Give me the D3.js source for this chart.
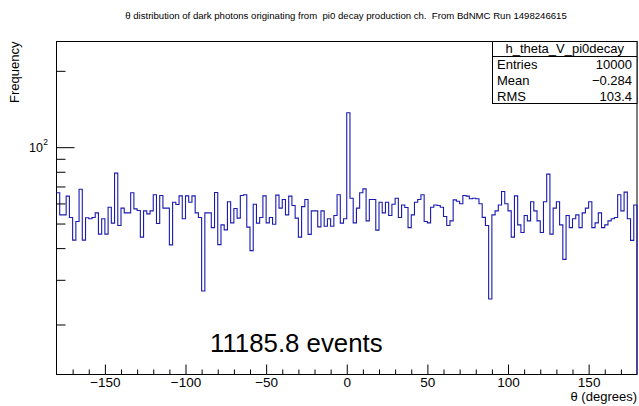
<!DOCTYPE html>
<html><head><meta charset="utf-8">
<script src="https://cdn.jsdelivr.net/npm/d3@7"></script>
<style>
html,body{margin:0;padding:0;background:#fff;}
svg{display:block;font-family:"Liberation Sans",Arial,Helvetica,sans-serif;}
</style></head>
<body>
<svg id="c" width="639" height="406"></svg>
<script>
// ---- data ----
const binEdgesStart = -180, binWidth = 2;
const counts = [
66.1,54.1,54.1,64.1,52.8,43.0,50.9,68.3,43.0,52.7,
52.2,52.8,55.1,45.4,52.2,45.4,58.0,50.2,79.0,49.1,
57.5,55.1,55.1,66.1,57.1,56.3,44.2,56.1,54.6,56.1,
64.9,50.0,64.5,57.5,57.5,41.2,60.7,59.4,64.3,52.2,
64.3,60.7,64.3,55.1,52.8,27.1,55.1,55.1,48.2,66.3,
41.3,49.4,47.2,60.9,50.3,57.3,52.5,64.5,64.9,48.4,
39.1,59.6,50.2,52.8,64.3,50.3,52.8,49.7,64.7,57.5,
62.2,54.1,64.1,58.9,52.5,44.2,58.3,62.2,45.3,56.1,
56.1,48.5,56.1,48.8,52.2,48.8,53.8,64.9,50.2,52.2,
136.6,62.9,50.3,57.5,66.1,68.5,51.2,62.2,62.2,47.1,
60.7,55.1,60.7,53.8,59.6,62.9,52.8,59.2,57.8,48.2,
54.1,60.7,62.2,64.9,50.9,50.3,58.0,59.2,58.9,58.0,
53.3,49.1,51.2,62.0,61.2,59.8,64.5,64.1,62.6,62.9,
62.6,59.8,52.9,49.1,25.2,54.1,56.1,59.2,66.9,59.8,
56.1,44.2,64.3,49.4,46.1,53.8,51.2,60.9,56.1,51.2,
46.1,60.9,78.3,45.4,57.5,60.9,49.4,36.1,53.8,48.2,
52.2,54.1,48.2,55.1,57.5,60.9,48.2,50.3,55.1,48.2,
49.4,51.2,52.2,52.8,64.9,56.1,66.5,52.2,42.9,59.2
];
const xMajorTicks = [-150,-100,-50,0,50,100,150];
const xMinorTicks = d3.range(-170,180,10).filter(v => v % 50 !== 0);
const yMajorTicks = [100];
const yMinorTicks = [20,30,40,50,60,70,80,90,200];
const titleText = "\u03b8 distribution of dark photons originating from  pi0 decay production ch.  From BdNMC Run 1498246615";
const statsName = "h_theta_V_pi0decay";
const statsRows = [["Entries","10000"],["Mean","\u22120.284"],["RMS","103.4"]];
const eventsText = "11185.8 events";

// ---- layout ----
const L = 56.5, R = 637, T = 41.5, B = 374.5;
const svg = d3.select("#c");
const x = d3.scaleLinear().domain([-180,180]).range([L,R]);
const y = d3.scaleLog().domain([12.7,261]).range([B,T]);

// histogram outline
const pts = [];
counts.forEach((v,i) => {
  const x0 = binEdgesStart + i*binWidth, x1 = x0 + binWidth;
  pts.push([x(x0), y(v)], [x(x1), y(v)]);
});
pts.push([x(180), y(12.7)]);

// frame
svg.append("rect").attr("x",L).attr("y",T).attr("width",R-L).attr("height",B-T)
  .attr("fill","none").attr("stroke","#000").attr("stroke-width",1);

svg.append("path").attr("d", d3.line()(pts))
  .attr("fill","none").attr("stroke","#1a1ab0").attr("stroke-width",1.1);

// x axis
const fmt = d => (d < 0 ? "\u2212" + Math.abs(d) : String(d));
const gx = svg.append("g").attr("transform",`translate(0,${B})`);
gx.call(d3.axisBottom(x).tickValues(xMajorTicks).tickSize(-10).tickSizeOuter(0).tickFormat(fmt).tickPadding(3));
const gx2 = svg.append("g").attr("transform",`translate(0,${B})`);
gx2.call(d3.axisBottom(x).tickValues(xMinorTicks).tickSize(-5).tickSizeOuter(0).tickFormat(""));
[gx,gx2].forEach(g => { g.select(".domain").remove(); g.selectAll("line").attr("stroke","#000"); });
gx.selectAll("text").attr("font-size",13.5).attr("fill","#000").attr("font-family","Liberation Sans, Arial, sans-serif");

// y axis
const gy = svg.append("g").attr("transform",`translate(${L},0)`);
gy.call(d3.axisLeft(y).tickValues(yMajorTicks).tickSize(-18).tickSizeOuter(0).tickFormat(""));
const gy2 = svg.append("g").attr("transform",`translate(${L},0)`);
gy2.call(d3.axisLeft(y).tickValues(yMinorTicks).tickSize(-9).tickSizeOuter(0).tickFormat(""));
[gy,gy2].forEach(g => { g.select(".domain").remove(); g.selectAll("line").attr("stroke","#000"); });
yMajorTicks.forEach(v => {
  svg.append("text").attr("x",43).attr("y",y(v)+5).attr("text-anchor","end")
    .attr("font-size",12.5).text("10");
  svg.append("text").attr("x",43.3).attr("y",y(v)-2).attr("font-size",8.5).text(Math.log10(v));
});

// axis titles
svg.append("text").attr("x",R).attr("y",401).attr("text-anchor","end").attr("font-size",13).text("\u03b8 (degrees)");
svg.append("text").attr("transform",`translate(19,${T}) rotate(-90)`).attr("text-anchor","end")
  .attr("font-size",13).text("Frequency");

// title
svg.append("text").attr("x",346).attr("y",18.5).attr("text-anchor","middle").attr("font-size",9.6)
  .style("white-space","pre").text(titleText);

// stats box
const sx0 = 492.5, sx1 = R, sy0 = T, sy1 = 103.5;
svg.append("rect").attr("x",sx0).attr("y",sy0).attr("width",sx1-sx0).attr("height",sy1-sy0)
  .attr("fill","#fff").attr("stroke","#000").attr("stroke-width",1);
svg.append("line").attr("x1",sx0).attr("x2",sx1).attr("y1",56.5).attr("y2",56.5).attr("stroke","#000");
svg.append("text").attr("x",(sx0+sx1)/2).attr("y",52.5).attr("text-anchor","middle").attr("font-size",13).text(statsName);
statsRows.forEach((r,i) => {
  const yy = 69 + i*16;
  svg.append("text").attr("x",497).attr("y",yy).attr("font-size",13).text(r[0]);
  svg.append("text").attr("x",632).attr("y",yy).attr("text-anchor","end").attr("font-size",13).text(r[1]);
});

// annotation
svg.append("text").attr("x",210).attr("y",352).attr("font-size",25.8).text(eventsText);
</script>
</body></html>
